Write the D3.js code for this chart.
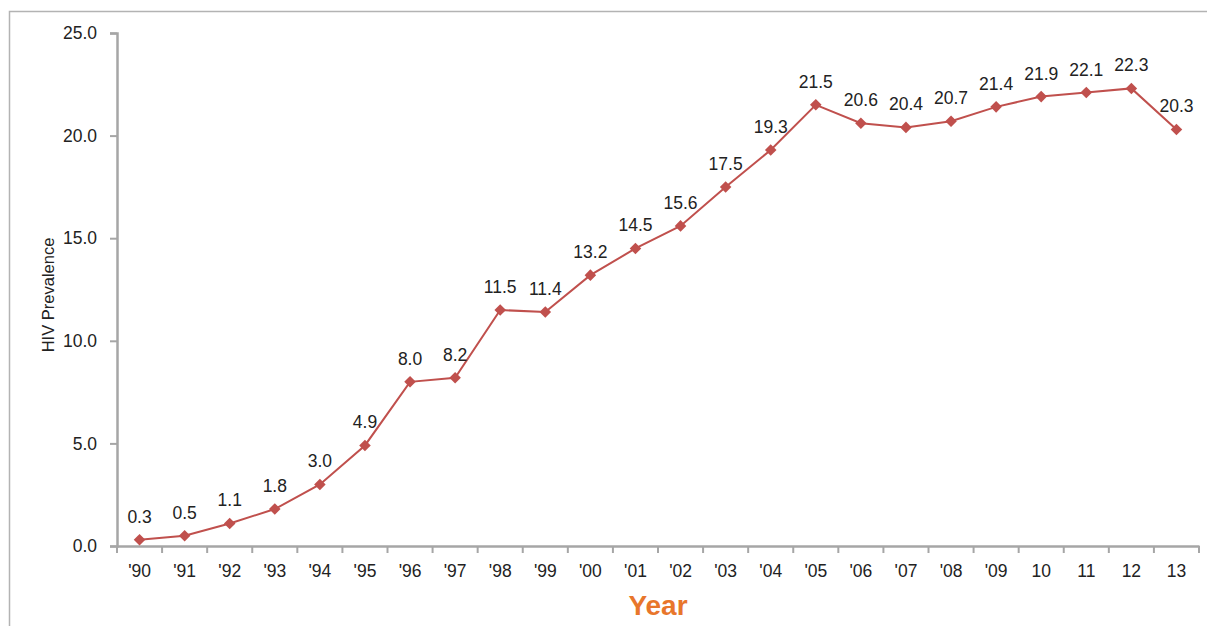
<!DOCTYPE html>
<html>
<head>
<meta charset="utf-8">
<script src="https://cdn.jsdelivr.net/npm/d3@7"></script>
<style>
  body { margin: 0; background: #fff; }
  text { font-family: "Liberation Sans", Arial, sans-serif; fill: #222; }
</style>
</head>
<body>
<div id="chart-area"></div>
<script>
// data
var years = ["'90", "'91", "'92", "'93", "'94", "'95", "'96", "'97", "'98", "'99",
             "'00", "'01", "'02", "'03", "'04", "'05", "'06", "'07", "'08", "'09",
             "10", "11", "12", "13"];
var prevalence = [0.3, 0.5, 1.1, 1.8, 3.0, 4.9, 8.0, 8.2, 11.5, 11.4,
                  13.2, 14.5, 15.6, 17.5, 19.3, 21.5, 20.6, 20.4, 20.7, 21.4,
                  21.9, 22.1, 22.3, 20.3];
var yTicks = [0, 5, 10, 15, 20, 25];

var data = years.map((y, i) => ({ year: y, value: prevalence[i] }));

var margin = { top: 33, right: 8, bottom: 80, left: 117 };
var width = 1207 - margin.left - margin.right;
var height = 626 - margin.top - margin.bottom;

var svg = d3.select('#chart-area').append('svg')
	.attr('width', 1207)
	.attr('height', 626);

// outer frame
svg.append('rect')
	.attr('x', 9.5).attr('y', 11.5)
	.attr('width', 1220).attr('height', 640)
	.attr('fill', 'none')
	.attr('stroke', '#b3b3b3')
	.attr('stroke-width', 1.5);

var g = svg.append('g').attr('transform', `translate(${margin.left}, ${margin.top})`);

var x = d3.scaleBand().domain(years).range([0, width]);
var y = d3.scaleLinear().domain([0, 25]).range([height, 0]);

var axisColor = '#a6a6a6';
var fontSize = '17.5px';

var xAxis = g.append('g').attr('transform', `translate(0, ${height})`)
	.call(d3.axisBottom(x).tickSize(0).tickPadding(19));
xAxis.select('.domain').attr('stroke', axisColor).attr('stroke-width', 2.5);
xAxis.selectAll('text').attr('font-size', fontSize).attr('fill', '#222');

// x ticks sit on category boundaries
g.append('g').selectAll('line')
	.data(d3.range(years.length + 1))
	.enter().append('line')
		.attr('x1', i => i * x.step()).attr('x2', i => i * x.step())
		.attr('y1', height).attr('y2', height + 7)
		.attr('stroke', axisColor).attr('stroke-width', 2);

var yAxis = g.append('g')
	.call(d3.axisLeft(y).tickValues(yTicks).tickFormat(d3.format('.1f')).tickSize(7).tickSizeOuter(7).tickPadding(13));
yAxis.select('.domain').attr('stroke', axisColor).attr('stroke-width', 2.5);
yAxis.selectAll('.tick line').attr('stroke', axisColor).attr('stroke-width', 2);
yAxis.selectAll('text').attr('font-size', fontSize).attr('fill', '#222');

var cx = d => x(d.year) + x.bandwidth() / 2;

var line = d3.line().x(cx).y(d => y(d.value));

g.append('path')
	.datum(data)
	.attr('d', line)
	.attr('fill', 'none')
	.attr('stroke', '#c0504d')
	.attr('stroke-width', 2);

g.selectAll('.marker').data(data)
	.enter().append('path')
		.attr('class', 'marker')
		.attr('transform', d => `translate(${cx(d)}, ${y(d.value)})`)
		.attr('d', d3.symbol().type(d3.symbolDiamond2).size(85))
		.attr('fill', '#c0504d');

g.selectAll('.value-label').data(data)
	.enter().append('text')
		.attr('class', 'value-label')
		.attr('x', cx)
		.attr('y', d => y(d.value) - 17)
		.attr('text-anchor', 'middle')
		.attr('font-size', fontSize)
		.text(d => d.value.toFixed(1));

svg.append('text')
	.attr('x', 658)
	.attr('y', 615)
	.attr('text-anchor', 'middle')
	.attr('font-size', '28px')
	.attr('font-weight', 'bold')
	.style('fill', '#e8762b')
	.text('Year');

svg.append('text')
	.attr('transform', 'translate(54, 295) rotate(-90)')
	.attr('text-anchor', 'middle')
	.attr('font-size', '16.5px')
	.text('HIV Prevalence');
</script>
</body>
</html>
